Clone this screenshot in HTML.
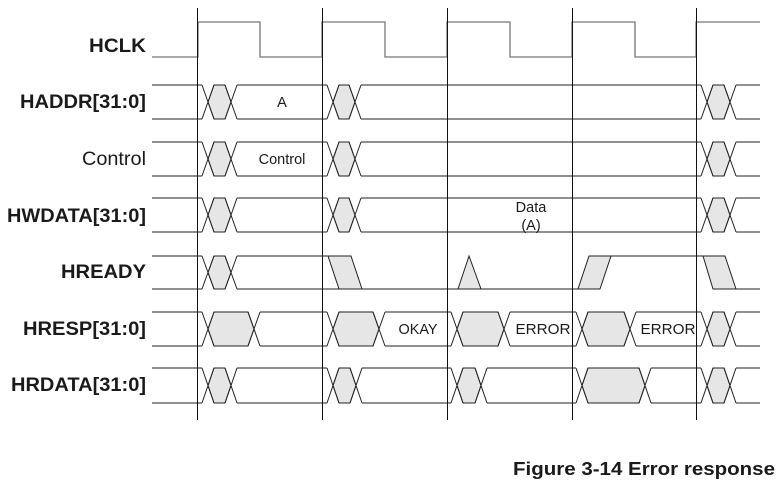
<!DOCTYPE html>
<html><head><meta charset="utf-8"><style>
html,body{margin:0;padding:0;background:#fff;}
svg{display:block}
text{font-family:"Liberation Sans",Arial,sans-serif;fill:#1a1a1a}
.lb{font-weight:bold;font-size:19px;text-anchor:end}
.t{font-size:14.5px;text-anchor:middle}
</style></head><body>
<svg width="783" height="491" viewBox="0 0 783 491" xmlns="http://www.w3.org/2000/svg">
<defs>
<g id="bus3">
<g fill="#e6e6e6" stroke="#222" stroke-width="1">
<polygon points="208,17 214,0 225,0 231,17 225,34 214,34"/>
<polygon points="333,17 339,0 349,0 355,17 349,34 339,34"/>
<polygon points="707,17 713,0 724,0 730,17 724,34 713,34"/>
</g>
<path fill="none" stroke="#222" stroke-width="1" d="M152 0H202M237 0H327M361 0H701M736 0H760M152 34H202M237 34H327M361 34H701M736 34H760M202 0L214 34M202 34L214 0M225 0L237 34M225 34L237 0M327 0L339 34M327 34L339 0M349 0L361 34M349 34L361 0M701 0L713 34M701 34L713 0M724 0L736 34M724 34L736 0"/>
</g>
</defs>

<path fill="none" stroke="#777" stroke-width="1.3" d="M152 57H198V22H260V57H322V22H385V57H447V22H510V57H572V22H635V57H696V22H760"/>

<use href="#bus3" y="85"/>
<use href="#bus3" y="142"/>
<use href="#bus3" y="198"/>

<g fill="#e6e6e6" stroke="#222" stroke-width="1">
<polygon points="208,272.5 214,256 225,256 231,272.5 225,289 214,289"/>
<polygon points="328,256 351,256 362,289 339,289"/>
<polygon points="458,289 469,256 481,289"/>
<polygon points="578,289 600,289 611,256 589,256"/>
<polygon points="703,256 725,256 736,289 713,289"/>
</g>
<path fill="none" stroke="#222" stroke-width="1" d="M152 256H202M237 256H328M152 289H202M237 289H578M611 256H703M713 289H760M202 256L214 289M202 289L214 256M225 256L237 289M225 289L237 256"/>

<g transform="translate(0,312)">
<g fill="#e6e6e6" stroke="#222" stroke-width="1">
<polygon points="208,17 214,0 248,0 254,17 248,34 214,34"/>
<polygon points="333,17 339,0 373,0 379,17 373,34 339,34"/>
<polygon points="457,17 463,0 498,0 504,17 498,34 463,34"/>
<polygon points="582,17 588,0 624,0 630,17 624,34 588,34"/>
<polygon points="707,17 713,0 724,0 730,17 724,34 713,34"/>
</g>
<path fill="none" stroke="#222" stroke-width="1" d="M152 0H202M260 0H327M385 0H451M510 0H576M636 0H701M736 0H760M152 34H202M260 34H327M385 34H451M510 34H576M636 34H701M736 34H760M202 0L214 34M202 34L214 0M248 0L260 34M248 34L260 0M327 0L339 34M327 34L339 0M373 0L385 34M373 34L385 0M451 0L463 34M451 34L463 0M498 0L510 34M498 34L510 0M576 0L588 34M576 34L588 0M624 0L636 34M624 34L636 0M701 0L713 34M701 34L713 0M724 0L736 34M724 34L736 0"/>
</g>

<g transform="translate(0,368)">
<g fill="#e6e6e6" stroke="#222" stroke-width="1">
<polygon points="208,17.5 214,0 225,0 231,17.5 225,35 214,35"/>
<polygon points="333,17.5 339,0 350,0 356,17.5 350,35 339,35"/>
<polygon points="457,17.5 463,0 475,0 481,17.5 475,35 463,35"/>
<polygon points="582,17.5 588,0 639,0 645,17.5 639,35 588,35"/>
<polygon points="707,17.5 713,0 724,0 730,17.5 724,35 713,35"/>
</g>
<path fill="none" stroke="#222" stroke-width="1" d="M152 0H202M237 0H327M362 0H451M487 0H576M651 0H701M736 0H760M152 35H202M237 35H327M362 35H451M487 35H576M651 35H701M736 35H760M202 0L214 35M202 35L214 0M225 0L237 35M225 35L237 0M327 0L339 35M327 35L339 0M350 0L362 35M350 35L362 0M451 0L463 35M451 35L463 0M475 0L487 35M475 35L487 0M576 0L588 35M576 35L588 0M639 0L651 35M639 35L651 0M701 0L713 35M701 35L713 0M724 0L736 35M724 35L736 0"/>
</g>

<g stroke="#111" stroke-width="1">
<line x1="197.5" y1="8" x2="197.5" y2="420"/>
<line x1="322.5" y1="8" x2="322.5" y2="420"/>
<line x1="447.5" y1="8" x2="447.5" y2="420"/>
<line x1="572.5" y1="8" x2="572.5" y2="420"/>
<line x1="696.5" y1="8" x2="696.5" y2="420"/>
</g>

<text class="lb" x="146" y="52" textLength="57" lengthAdjust="spacingAndGlyphs">HCLK</text>
<text class="lb" x="146" y="108" textLength="126" lengthAdjust="spacingAndGlyphs">HADDR[31:0]</text>
<text x="146" y="165" style="font-size:19px;text-anchor:end" textLength="64" lengthAdjust="spacingAndGlyphs">Control</text>
<text class="lb" x="146" y="222" textLength="139" lengthAdjust="spacingAndGlyphs">HWDATA[31:0]</text>
<text class="lb" x="146" y="278" textLength="85" lengthAdjust="spacingAndGlyphs">HREADY</text>
<text class="lb" x="146" y="335" textLength="123" lengthAdjust="spacingAndGlyphs">HRESP[31:0]</text>
<text class="lb" x="146" y="391" textLength="135" lengthAdjust="spacingAndGlyphs">HRDATA[31:0]</text>

<text class="t" x="282" y="107">A</text>
<text class="t" x="282" y="164">Control</text>
<text class="t" x="531" y="212">Data</text>
<text class="t" x="531" y="230">(A)</text>
<text class="t" x="418" y="334" textLength="39" lengthAdjust="spacingAndGlyphs">OKAY</text>
<text class="t" x="543" y="334" textLength="55" lengthAdjust="spacingAndGlyphs">ERROR</text>
<text class="t" x="668" y="334" textLength="55" lengthAdjust="spacingAndGlyphs">ERROR</text>

<text x="775" y="475" style="font-weight:bold;font-size:18px;text-anchor:end" textLength="262" lengthAdjust="spacingAndGlyphs">Figure 3-14 Error response</text>
</svg>
</body></html>
